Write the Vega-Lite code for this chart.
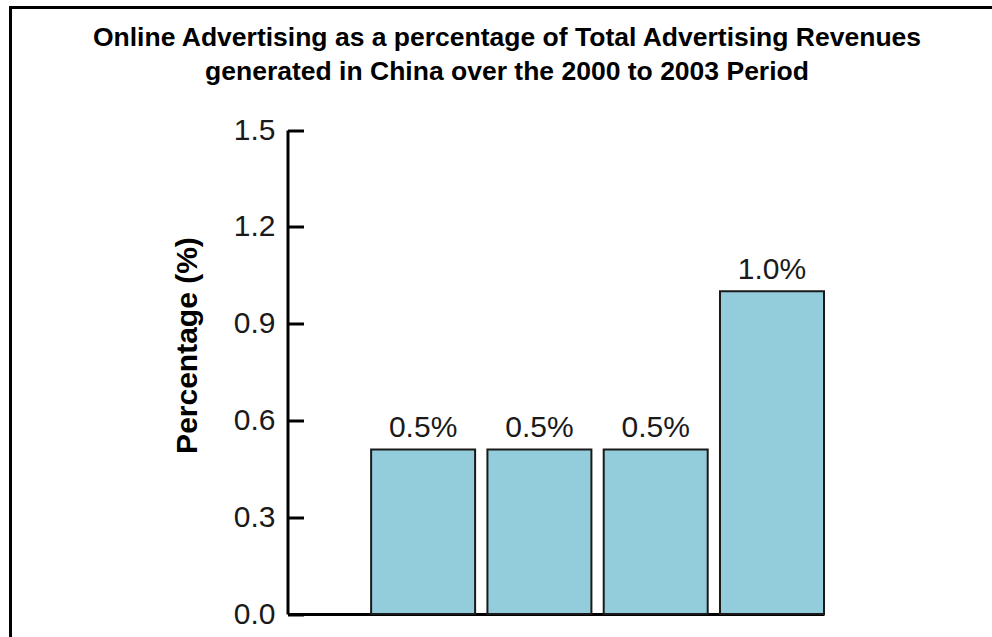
{
  "$schema": "https://vega.github.io/schema/vega-lite/v6.json",
  "width": 983,
  "height": 632,
  "autosize": {"type": "none"},
  "padding": {"left": 10.5, "top": 7.5, "right": -2, "bottom": -3},
  "background": "white",
  "config": {"view": {"stroke": "black", "strokeWidth": 3}},
  "title": {
    "text": ["Online Advertising as a percentage of Total Advertising Revenues", "generated in China over the 2000 to 2003 Period"],
    "font": "Liberation Sans",
    "fontSize": 26.5,
    "fontWeight": "bold",
    "color": "black",
    "lineHeight": 34,
    "anchor": "middle",
    "baseline": "alphabetic",
    "offset": -98.5,
    "dx": 5
  },
  "data": {
    "values": [
      {"year": "2000", "value": 0.51, "label": "0.5%"},
      {"year": "2001", "value": 0.51, "label": "0.5%"},
      {"year": "2002", "value": 0.51, "label": "0.5%"},
      {"year": "2003", "value": 1.0, "label": "1.0%"}
    ]
  },
  "encoding": {
    "x": {
      "field": "year",
      "type": "nominal",
      "scale": {"range": [277, 813.5], "paddingInner": 0.1058, "paddingOuter": 0.3595, "align": 1},
      "axis": {"labels": false, "ticks": false, "title": null, "domainColor": "black", "domainWidth": 3, "offset": -25.5, "grid": false}
    },
    "y": {
      "field": "value",
      "type": "quantitative",
      "scale": {"domain": [0, 1.5], "range": [606.5, 122.5], "nice": false},
      "axis": {
        "values": [0, 0.3, 0.6, 0.9, 1.2, 1.5],
        "format": ".1f",
        "grid": false,
        "title": "Percentage (%)",
        "titleFont": "Liberation Sans",
        "titleFontSize": 30,
        "titleFontWeight": "bold",
        "titleColor": "black",
        "titleAngle": -90,
        "titleX": -100.5,
        "titleY": 337.5,
        "titleBaseline": "middle",
        "titleAlign": "center",
        "labelFont": "Liberation Sans",
        "labelFontSize": 30,
        "labelColor": "#1a1a1a",
        "labelPadding": 28.5,
        "tickSize": -16,
        "tickWidth": 3,
        "tickColor": "black",
        "domainColor": "black",
        "domainWidth": 3,
        "offset": -277
      }
    }
  },
  "layer": [
    {"mark": {"type": "bar", "fill": "#93CDDB", "stroke": "#1a1a1a", "strokeWidth": 2}},
    {
      "mark": {"type": "text", "font": "Liberation Sans", "fontSize": 30, "baseline": "alphabetic", "dy": -12, "color": "#1a1a1a"},
      "encoding": {"text": {"field": "label", "type": "nominal"}}
    }
  ]
}
